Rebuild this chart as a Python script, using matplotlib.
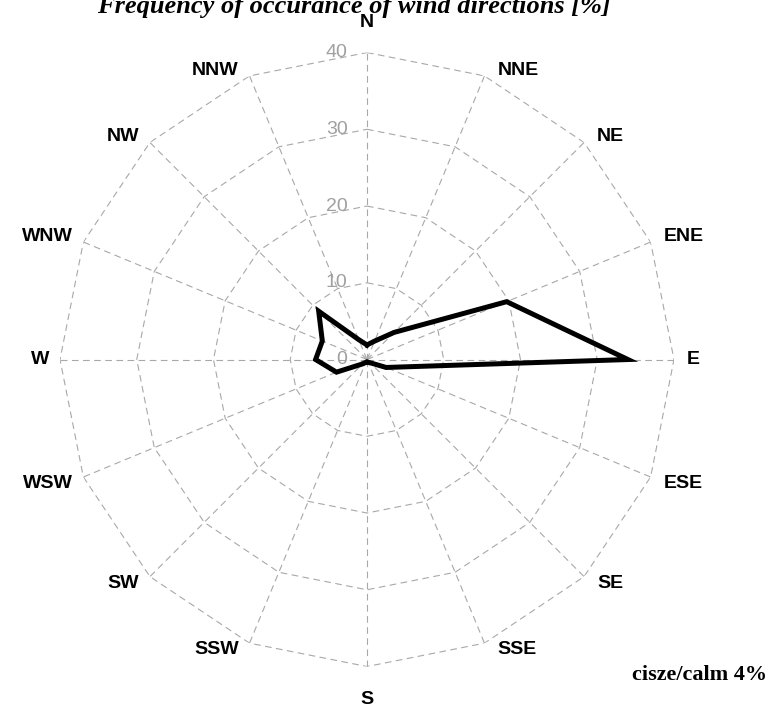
import numpy as np
import matplotlib.pyplot as plt

# wind direction frequencies [%]
directions = ['N', 'NNE', 'NE', 'ENE', 'E', 'ESE', 'SE', 'SSE',
              'S', 'SSW', 'SW', 'WSW', 'W', 'WNW', 'NW', 'NNW']
freq = [1.9, 2.6, 5.0, 19.7, 34.0, 2.7, 0.6, 0.4,
        0.3, 0.4, 0.8, 4.3, 6.7, 6.3, 8.9, 2.8]
ring_levels = [0, 10, 20, 30, 40]
calm = 4

grid_col = '#a8a8a8'
n = len(directions)
theta = np.linspace(0, 2 * np.pi, n, endpoint=False)
theta_closed = np.append(theta, theta[0])
rmax = ring_levels[-1]

fig = plt.figure(figsize=(7.74, 7.09), dpi=100)
ax = fig.add_axes([0.0775, 0.0599, 0.7933, 0.8660], projection='polar')
ax.set_theta_zero_location('N')
ax.set_theta_direction(-1)
ax.set_ylim(0, rmax)
ax.grid(False)
ax.set_xticks([])
ax.set_yticks([])
ax.spines['polar'].set_visible(False)

# polygon grid rings and spokes
for lev in ring_levels[1:]:
    ax.plot(theta_closed, [lev] * (n + 1), color=grid_col, lw=0.8,
            linestyle=(0, (6, 4)), zorder=1)
for t in theta:
    ax.plot([t, t], [0, rmax], color=grid_col, lw=0.8,
            linestyle=(0, (6, 4)), zorder=1)

# radial tick labels
for lev in ring_levels:
    ax.annotate(str(lev), xy=(0, lev), xytext=(-14, 0), textcoords='offset points',
                ha='right', va='center', fontsize=14, color='#a0a0a0',
                family='Liberation Sans', zorder=2)

# data
vals = freq + freq[:1]
ax.plot(theta_closed, vals, color='black', lw=3.6, zorder=3,
        solid_joinstyle='miter')

# direction labels, placed next to the outer ring vertices (Excel style)
for t, d in zip(theta, directions):
    s, c = np.sin(t), np.cos(t)
    if s > 0.01:
        ha, dx = 'left', 13
    elif s < -0.01:
        ha, dx = 'right', -11
    else:
        ha, dx = 'center', 0
    if abs(s) < 0.01:
        va, dy = 'center', (30 if c > 0 else -33)
    elif c > 0.01:
        va, dy = 'bottom', -3
    elif c < -0.01:
        va, dy = 'top', 2
    else:
        va, dy = 'center', 0
    ax.annotate(d, xy=(t, rmax), xytext=(dx, dy), textcoords='offset pixels',
                ha=ha, va=va, fontsize=14, fontweight='bold',
                family='Liberation Sans', annotation_clip=False)

fig.text(354 / 774, 1 - 13 / 709, 'Frequency of occurance of wind directions [%]',
         ha='center', va='baseline', fontsize=19, fontweight='bold',
         style='italic', family='Liberation Serif')
fig.text(767 / 774, 1 - 680 / 709, 'cisze/calm %d%%' % calm,
         ha='right', va='baseline', fontsize=16, fontweight='bold',
         family='Liberation Serif')

fig.savefig('out.png', dpi=100)
